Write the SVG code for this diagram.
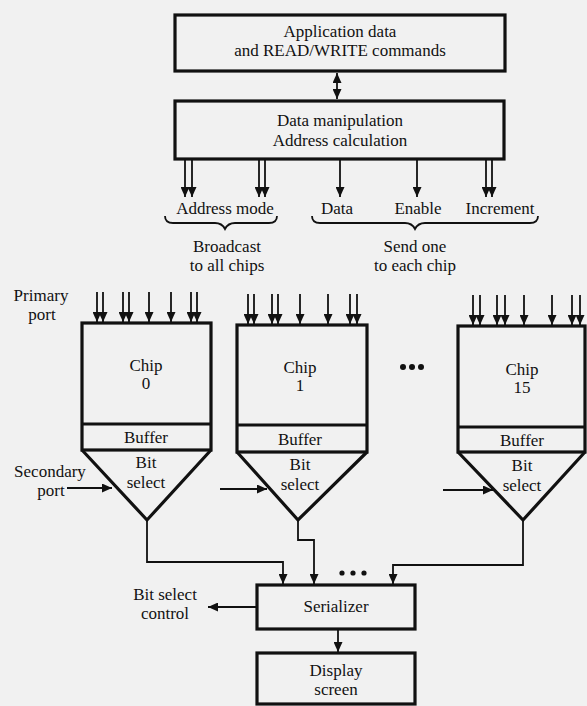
<svg xmlns="http://www.w3.org/2000/svg" width="587" height="706" viewBox="0 0 587 706">
<defs>
<marker id="ah" markerUnits="userSpaceOnUse" markerWidth="10" markerHeight="9" refX="10" refY="4.5" orient="auto-start-reverse">
<path d="M0,0 L10,4.5 L0,9 z" fill="#111"/>
</marker>
<style>
.box{fill:none;stroke:#111;stroke-width:3.2}
.ln{fill:none;stroke:#111;stroke-width:1.8}
.ar{fill:none;stroke:#111;stroke-width:1.8;marker-end:url(#ah)}
.br{fill:none;stroke:#111;stroke-width:1.8}
.t{font-family:'Liberation Serif', serif;font-size:17px;fill:#111;text-anchor:middle}
.dot{fill:#111}
</style>
</defs>
<rect width="587" height="706" fill="#f1f1f1"/>

<g id="app">
<rect class="box" x="175" y="15" width="330" height="56"/>
<text class="t" x="340" y="37">Application data</text>
<text class="t" x="340" y="56">and READ/WRITE commands</text>
</g>

<g id="manip">
<rect class="box" x="175" y="101" width="329" height="58"/>
<text class="t" x="340" y="126">Data manipulation</text>
<text class="t" x="340" y="146">Address calculation</text>
</g>

<g id="labels">
<text class="t" x="225" y="214">Address mode</text>
<text class="t" x="337" y="214">Data</text>
<text class="t" x="418" y="214">Enable</text>
<text class="t" x="500" y="214">Increment</text>
<path class="br" d="M165,216 q0,7 8,7 L215,223 q7,0 10,6 q3,-6 10,-6 L269,223 q8,0 8,-7"/>
<path class="br" d="M312,216 q0,7 8,7 L405,223 q7,0 10,6 q3,-6 10,-6 L530,223 q8,0 8,-7"/>
<text class="t" x="227" y="252">Broadcast</text>
<text class="t" x="227" y="271">to all chips</text>
<text class="t" x="415" y="252">Send one</text>
<text class="t" x="415" y="271">to each chip</text>
<text class="t" x="41" y="301">Primary</text>
<text class="t" x="42" y="320">port</text>
<text class="t" x="50" y="477">Secondary</text>
<text class="t" x="51" y="496">port</text>
</g>

<g id="chip0">
<rect class="box" x="82" y="323" width="129" height="127"/>
<line class="box" x1="82" y1="424" x2="211" y2="424"/>
<path class="box" d="M82,450 L147,520 L211,450"/>
<text class="t" x="146" y="371">Chip</text>
<text class="t" x="146" y="389">0</text>
<text class="t" x="146" y="443">Buffer</text>
<text class="t" x="146" y="468">Bit</text>
<text class="t" x="146" y="488">select</text>
</g>

<g id="chip1">
<rect class="box" x="237" y="325" width="130" height="127"/>
<line class="box" x1="237" y1="425" x2="367" y2="425"/>
<path class="box" d="M237,452 L298,520 L367,452"/>
<text class="t" x="300" y="373">Chip</text>
<text class="t" x="300" y="391">1</text>
<text class="t" x="300" y="445">Buffer</text>
<text class="t" x="300" y="470">Bit</text>
<text class="t" x="300" y="490">select</text>
</g>

<g id="chip15">
<rect class="box" x="458" y="326" width="127" height="126"/>
<line class="box" x1="458" y1="427" x2="585" y2="427"/>
<path class="box" d="M458,452 L523,520 L585,452"/>
<text class="t" x="522" y="375">Chip</text>
<text class="t" x="522" y="393">15</text>
<text class="t" x="522" y="446">Buffer</text>
<text class="t" x="522" y="471">Bit</text>
<text class="t" x="522" y="491">select</text>
</g>

<g id="dots">
<circle class="dot" cx="403" cy="367" r="3"/>
<circle class="dot" cx="412" cy="367" r="3"/>
<circle class="dot" cx="421" cy="367" r="3"/>
<circle class="dot" cx="342" cy="573" r="2.6"/>
<circle class="dot" cx="353" cy="573" r="2.6"/>
<circle class="dot" cx="364" cy="573" r="2.6"/>
</g>

<g id="serializer">
<rect class="box" x="257" y="585" width="158" height="44"/>
<text class="t" x="336" y="612">Serializer</text>
</g>

<g id="display">
<rect class="box" x="257" y="653" width="158" height="51"/>
<text class="t" x="336" y="676">Display</text>
<text class="t" x="336" y="695">screen</text>
</g>

<g id="bitsel">
<text class="t" x="165" y="600">Bit select</text>
<text class="t" x="165" y="619">control</text>
</g>

<g id="connectors">
<line class="ln" x1="337" y1="73" x2="337" y2="99" style="marker-start:url(#ah);marker-end:url(#ah)"/>
<line class="ar" x1="185" y1="159" x2="185" y2="197"/>
<line class="ar" x1="192" y1="159" x2="192" y2="197"/>
<line class="ar" x1="259" y1="159" x2="259" y2="197"/>
<line class="ar" x1="265" y1="159" x2="265" y2="197"/>
<line class="ar" x1="340" y1="159" x2="340" y2="197"/>
<line class="ar" x1="417" y1="159" x2="417" y2="197"/>
<line class="ar" x1="486" y1="159" x2="486" y2="197"/>
<line class="ar" x1="492" y1="159" x2="492" y2="197"/>

<line class="ar" x1="97" y1="292" x2="97" y2="322"/>
<line class="ar" x1="103" y1="292" x2="103" y2="322"/>
<line class="ar" x1="123" y1="292" x2="123" y2="322"/>
<line class="ar" x1="129" y1="292" x2="129" y2="322"/>
<line class="ar" x1="149" y1="292" x2="149" y2="322"/>
<line class="ar" x1="171" y1="292" x2="171" y2="322"/>
<line class="ar" x1="191" y1="292" x2="191" y2="322"/>
<line class="ar" x1="197" y1="292" x2="197" y2="322"/>

<line class="ar" x1="248" y1="294" x2="248" y2="324"/>
<line class="ar" x1="254" y1="294" x2="254" y2="324"/>
<line class="ar" x1="272" y1="294" x2="272" y2="324"/>
<line class="ar" x1="278" y1="294" x2="278" y2="324"/>
<line class="ar" x1="300" y1="294" x2="300" y2="324"/>
<line class="ar" x1="328" y1="294" x2="328" y2="324"/>
<line class="ar" x1="350" y1="294" x2="350" y2="324"/>
<line class="ar" x1="357" y1="294" x2="357" y2="324"/>

<line class="ar" x1="473" y1="295" x2="473" y2="325"/>
<line class="ar" x1="480" y1="295" x2="480" y2="325"/>
<line class="ar" x1="497" y1="295" x2="497" y2="325"/>
<line class="ar" x1="505" y1="295" x2="505" y2="325"/>
<line class="ar" x1="524" y1="295" x2="524" y2="325"/>
<line class="ar" x1="552" y1="295" x2="552" y2="325"/>
<line class="ar" x1="572" y1="295" x2="572" y2="325"/>
<line class="ar" x1="580" y1="295" x2="580" y2="325"/>

<line class="ar" x1="67" y1="488" x2="112" y2="488"/>
<line class="ar" x1="220" y1="489" x2="267" y2="489"/>
<line class="ar" x1="443" y1="490" x2="493" y2="490"/>

<path class="ar" d="M147,520 V562 H283 V584"/>
<path class="ar" d="M298,520 V540 H314 V584"/>
<path class="ar" d="M523,520 V565 H393 V584"/>

<line class="ar" x1="257" y1="607" x2="208" y2="607"/>
<line class="ar" x1="338" y1="629" x2="338" y2="652"/>
</g>
</svg>
